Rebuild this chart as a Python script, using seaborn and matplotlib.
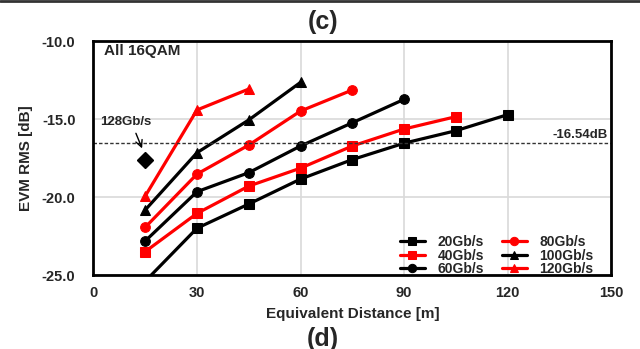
import matplotlib
matplotlib.use("Agg")
import matplotlib.pyplot as plt
import seaborn as sns
import pandas as pd
from matplotlib.lines import Line2D

distance = [15, 30, 45, 60, 75, 90, 105, 120]
evm_20 = [-25.4, -22.0, -20.45, -18.85, -17.6, -16.55, -15.75, -14.72]
evm_40 = [-23.5, -21.05, -19.3, -18.15, -16.73, -15.64, -14.85]
evm_60 = [-22.82, -19.66, -18.44, -16.73, -15.24, -13.74]
evm_80 = [-21.94, -18.53, -16.67, -14.49, -13.14]
evm_100 = [-20.83, -17.16, -15.06, -12.65]
evm_120 = [-19.94, -14.42, -13.08]
evm_128_x = [15]
evm_128 = [-17.63]
threshold = -16.54

labels = ["20Gb/s", "40Gb/s", "60Gb/s", "80Gb/s", "100Gb/s", "120Gb/s"]
series = [evm_20, evm_40, evm_60, evm_80, evm_100, evm_120]
colors = ["#000000", "#ff0000", "#000000", "#ff0000", "#000000", "#ff0000"]
markers = ["s", "s", "o", "o", "^", "^"]

rows = []
for lab, vals in zip(labels, series):
    for d, v in zip(distance, vals):
        rows.append({"Distance": d, "EVM": v, "Rate": lab})
df = pd.DataFrame(rows)

sns.set_theme(style="white")
plt.rcParams["font.family"] = ["Liberation Sans", "DejaVu Sans"]
plt.rcParams["font.weight"] = "bold"

fig = plt.figure(figsize=(6.4, 3.49), dpi=100)
ax = fig.add_axes([0.146, 0.212, 0.809, 0.6705])

for lab, col, mk in zip(labels, colors, markers):
    sub = df[df["Rate"] == lab]
    sns.lineplot(data=sub, x="Distance", y="EVM", ax=ax, color=col, marker=mk,
                 markersize=7, markeredgecolor=col, linewidth=2.3, label=lab,
                 sort=False)

ax.plot(evm_128_x, evm_128, linestyle="none", marker="D", color="black",
        markersize=8)
ax.text(9.3, -15.2, "128Gb/s", ha="center", va="center", fontsize=9.5,
        fontweight="bold")
ax.annotate("", xy=(14.4, -17.05), xytext=(12.0, -15.75),
            arrowprops=dict(arrowstyle="->", color="black", lw=1))

ax.axhline(threshold, color="#333333", linestyle=(0, (2.5, 1.5)), linewidth=1)
ax.text(149, threshold + 0.12, "-16.54dB", ha="right", va="bottom",
        fontsize=9.5, fontweight="bold")
ax.text(3, -10.65, "All 16QAM", ha="left", va="center", fontsize=11,
        fontweight="bold")

ax.set_xlim(0, 150)
ax.set_ylim(-25, -10)
ax.set_xticks([0, 30, 60, 90, 120, 150])
ax.set_yticks([-25, -20, -15, -10])
ax.set_yticklabels([f"{v:.1f}" for v in [-25, -20, -15, -10]])
ax.grid(True, color="#d9d9d9", linewidth=1.2)
ax.tick_params(length=0, labelsize=10.5)
for t in ax.get_xticklabels() + ax.get_yticklabels():
    t.set_fontweight("bold")
ax.tick_params(axis="x", pad=8)
ax.tick_params(axis="y", pad=13)
for s in ax.spines.values():
    s.set_color("black")
    s.set_linewidth(2)
ax.set_xlabel("Equivalent Distance [m]", fontsize=11, fontweight="bold",
              labelpad=5)
ax.set_ylabel("EVM RMS [dB]", fontsize=11, fontweight="bold", labelpad=6)

leg = ax.legend(ncol=2, loc="lower right", bbox_to_anchor=(0.985, -0.045),
                frameon=False, fontsize=10, handlelength=1.8,
                labelspacing=-0.05, columnspacing=1.3, handletextpad=0.9,
                borderpad=0.2)
for t in leg.get_texts():
    t.set_fontweight("bold")
for h in leg.get_lines():
    h.set_markersize(6)

fig.text(0.505, 0.936, "(c)", ha="center", va="center", fontsize=18,
         fontweight="bold")
fig.text(0.505, 0.03, "(d)", ha="center", va="center", fontsize=18,
         fontweight="bold")
fig.add_artist(Line2D([0, 1], [0.997, 0.997], color="#333333", linewidth=2,
                      transform=fig.transFigure))

fig.savefig("out.png", dpi=100)
